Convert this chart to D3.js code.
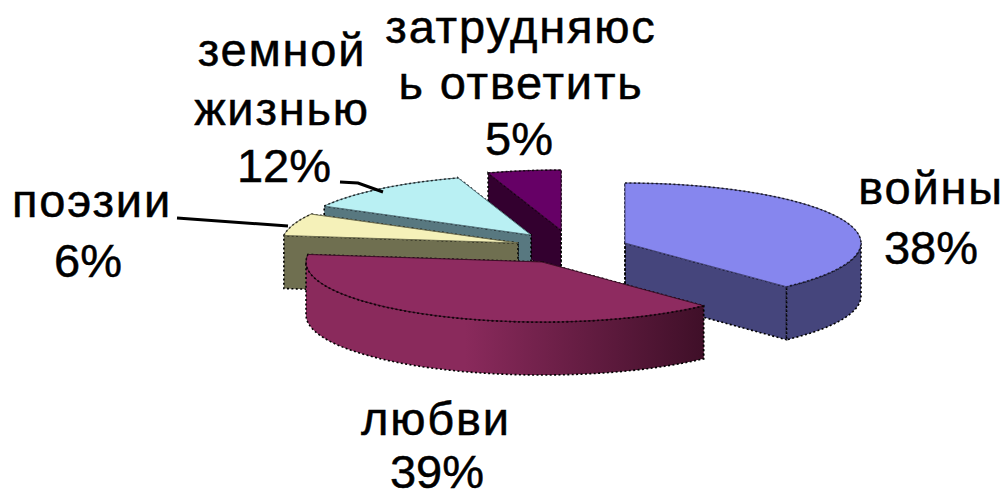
<!DOCTYPE html>
<html><head><meta charset="utf-8">
<style>html,body{margin:0;padding:0;background:#fff;overflow:hidden}svg{display:block}text{font-family:"Liberation Sans",Arial,sans-serif;font-size:47px;fill:#000;stroke:#000;stroke-width:.5px;text-anchor:middle}</style>
<script src="https://cdn.jsdelivr.net/npm/d3@7"></script></head><body>
<script>
const categories = ["войны","любви","поэзии","земной жизнью","затрудняюсь ответить"];
const values = [38,39,6,12,5];
const percentLabels = ["38%","39%","6%","12%","5%"];
const labelLines = [["войны"],["любви"],["поэзии"],["земной","жизнью"],["затрудняюс","ь ответить"]];

// layout only
const W=1007,H=498,RX=236,RY=60,DEPTH=53;
const apexes=[[625,243],[542,262],[518,243],[531,235],[561,230]];
const topFill=["#8686ee","#8e2b60","#f5f1b9","#b9f0f3","#660066"];
const wallFill=["#45457c","#8a2a5c","#6f6f50","#587880","#33002f"];
const wallEnd=["#45457c","#3f0f28","#6f6f50","#587880","#33002f"];
const paint=[4,3,2,0,1];
const labelX=[[931,931],[436,437],[92,88],[282,282,284],[521,521,519]];
const labelY=[[204,264],[435,488],[217,277],[66,125,182],[43,99,155]];
const leaders=[
  {pts:[[177,218],[288,226]],w:3},
  {pts:[[340,182],[358,183],[383,192]],w:3}
];

const svg=d3.select("body").append("svg").attr("width",W).attr("height",H);
const defs=svg.append("defs");
const arcs=d3.pie().sort(null).value(d=>d)(values);
const pathLine=d3.line();
const sx=d3.scaleLinear().domain([-1,1]).range([-RX,RX]);
const sy=d3.scaleLinear().domain([-1,1]).range([-RY,RY]);
const rim=(i,a)=>[apexes[i][0]+sx(Math.sin(a)),apexes[i][1]-sy(Math.cos(a))];
const samples=(a0,a1)=>d3.range(0,41).map(k=>a0+(a1-a0)*k/40);
const dotted={stroke:"#000","stroke-width":1.6,"stroke-dasharray":"2 2.4"};
const apply=(s,o)=>{Object.entries(o).forEach(([k,v])=>s.attr(k,v));return s;};

paint.forEach(i=>{
  const d=arcs[i],a=apexes[i],g=svg.append("g").attr("class","slice");
  const gid="wall"+i;
  const lg=defs.append("linearGradient").attr("id",gid).attr("x1",0).attr("x2",1).attr("y1",0).attr("y2",0);
  lg.append("stop").attr("offset","0.4").attr("stop-color",wallFill[i]);
  lg.append("stop").attr("offset","1").attr("stop-color",wallEnd[i]);
  [d.endAngle,d.startAngle].forEach(ang=>{
    const p=rim(i,ang);
    apply(g.append("path").attr("d",pathLine([a,p,[p[0],p[1]+DEPTH],[a[0],a[1]+DEPTH]])+"Z").attr("fill",wallFill[i]),dotted);
  });
  const lo=Math.max(d.startAngle,Math.PI/2),hi=Math.min(d.endAngle,Math.PI*1.5);
  if(hi>lo){
    const top=samples(lo,hi).map(t=>rim(i,t));
    const bot=top.map(p=>[p[0],p[1]+DEPTH]).reverse();
    apply(g.append("path").attr("d",pathLine(top.concat(bot))+"Z").attr("fill",`url(#${gid})`),dotted);
  }
  const arcPts=samples(d.startAngle,d.endAngle).map(t=>rim(i,t));
  const face=[a].concat(arcPts);
  g.append("path").attr("d",pathLine(face)+"Z").attr("fill",topFill[i])
    .attr("stroke",wallEnd[i]).attr("stroke-width",1);
  apply(g.append("path").attr("d",pathLine(arcPts)).attr("fill","none"),dotted).attr("stroke-opacity",.7);
});

leaders.forEach(l=>svg.append("path").attr("d",pathLine(l.pts)).attr("fill","none").attr("stroke","#000").attr("stroke-width",l.w));

categories.forEach((c,i)=>{
  const t=svg.append("text").attr("class","label");
  labelLines[i].forEach((s,k)=>t.append("tspan").attr("x",labelX[i][k]).attr("y",labelY[i][k]).attr("letter-spacing",1.8).text(s));
  const n=labelLines[i].length;
  t.append("tspan").attr("x",labelX[i][n]).attr("y",labelY[i][n]).text(percentLabels[i]);
});
</script></body></html>
